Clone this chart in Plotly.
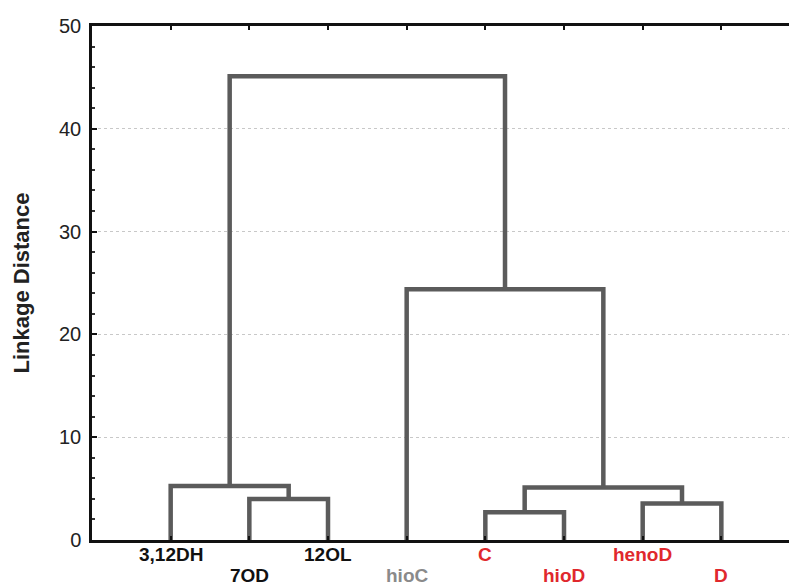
import plotly.graph_objects as go

# Leaves in dendrogram order and their label colours
leaf_labels = ["3,12DH", "7OD", "12OL", "hioC", "C", "hioD", "henoD", "D"]
leaf_colors = ["#111111", "#111111", "#111111", "#8a8a8a",
               "#e0282d", "#e0282d", "#e0282d", "#e0282d"]

# Linkage steps: (left node, right node, linkage distance)
# nodes 0..7 are the leaves, 8.. are the clusters formed in order
merges = [
    (4, 5, 2.7),     # C + hioD            -> 8
    (6, 7, 3.55),    # henoD + D           -> 9
    (1, 2, 4.0),     # 7OD + 12OL          -> 10
    (8, 9, 5.1),     # (C,hioD)+(henoD,D)  -> 11
    (0, 10, 5.25),   # 3,12DH + (7OD,12OL) -> 12
    (3, 11, 24.4),   # hioC + cluster 11   -> 13
    (12, 13, 45.1),  # root                -> 14
]

y_ticks = [0, 10, 20, 30, 40, 50]

LINK_COLOR = "#5b5b5b"
FONT = "Liberation Sans, Arial, sans-serif"

# Node positions: leaves sit at 1..n, clusters at the midpoint of their children
pos = {i: (i + 1, 0.0) for i in range(len(leaf_labels))}
xs, ys = [], []
for k, (a, b, h) in enumerate(merges):
    xa, ha = pos[a]
    xb, hb = pos[b]
    xs += [xa, xa, xb, xb, None]
    ys += [ha, h, h, hb, None]
    pos[len(leaf_labels) + k] = ((xa + xb) / 2, h)

fig = go.Figure()
fig.add_trace(go.Scatter(
    x=xs, y=ys, mode="lines",
    line=dict(color=LINK_COLOR, width=4.5),
    hoverinfo="skip", showlegend=False,
))

# Leaf labels in two staggered rows
for i, (lab, col) in enumerate(zip(leaf_labels, leaf_colors)):
    fig.add_annotation(
        x=i + 1, y=0, xref="x", yref="y",
        text=f"<b>{lab}</b>", showarrow=False,
        yanchor="top", xanchor="center",
        yshift=-2 if i % 2 == 0 else -23,
        font=dict(family=FONT, size=19, color=col),
    )

fig.update_layout(
    width=789, height=587,
    margin=dict(l=92, r=0, t=26, b=47),
    paper_bgcolor="white", plot_bgcolor="white",
    font=dict(family=FONT, color="#222222"),
)

fig.update_xaxes(
    range=[0.0, 8.86],
    tickvals=list(range(1, len(leaf_labels) + 1)),
    ticktext=[""] * len(leaf_labels),
    ticks="inside", ticklen=4, tickwidth=2, tickcolor="#111111",
    showline=True, linecolor="#111111", linewidth=2.5,
    mirror="ticks", showgrid=False, zeroline=False,
)

fig.update_yaxes(
    range=[0, 50],
    tickvals=y_ticks,
    ticks="inside", ticklen=5, tickwidth=1.5, tickcolor="#111111",
    tickfont=dict(size=20, color="#222222"),
    ticklabelstandoff=4,
    minor=dict(dtick=2, ticks="inside", ticklen=3, tickcolor="#333333", showgrid=False),
    showline=True, linecolor="#111111", linewidth=2.5,
    showgrid=True, gridcolor="#c8c8c8", griddash="dot", gridwidth=1,
    zeroline=False,
    title=dict(text="<b>Linkage Distance</b>", font=dict(size=22, color="#222222"), standoff=24),
)

fig.write_html("out.html")
